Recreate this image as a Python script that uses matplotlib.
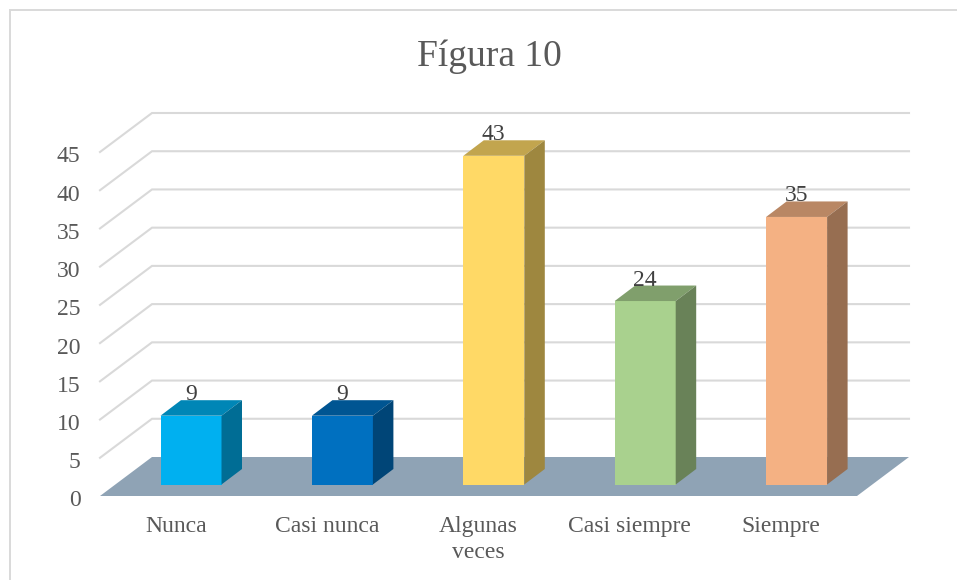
import matplotlib.pyplot as plt
import matplotlib.colors as mcolors
from matplotlib.patches import Polygon
from matplotlib.transforms import ScaledTranslation
import numpy as np

categorias = ["Nunca", "Casi nunca", "Algunas\nveces", "Casi siempre", "Siempre"]
valores = [9, 9, 43, 24, 35]
colores = ["#00B0F0", "#0070C0", "#FFD966", "#A9D18E", "#F4B183"]
niveles = [0, 5, 10, 15, 20, 25, 30, 35, 40, 45]

W, H = 957, 580
plt.rcParams["font.family"] = ["Liberation Serif", "DejaVu Serif"]


def oscurecer(color, f):
    r, g, b = mcolors.to_rgb(color)
    return (r*f, g*f, b*f)


fig = plt.figure(figsize=(W/100, H/100), dpi=100)
# front plane of the fake 3D box, in pixels
left, right, bottom, top = 100, 857, 496, 152
ax = fig.add_axes([left/W, 1-bottom/H, (right-left)/W, (bottom-top)/H])
ax.set_xlim(-0.5, 4.5)
ax.set_ylim(0, 45)
ax.patch.set_visible(False)
for s in ax.spines.values():
    s.set_visible(False)

# pixel sizes in data units
px = 5/(right-left)
py = 45/(bottom-top)

# depth of the floor and of the bars
dx, dy = 52*px, 39*py
bdx, bdy = 20.5*px, 15.5*py
# bars sit part way into the floor
sx, sy = 15.3*px, 11.5*py
ancho = 61*px

# chart frame, right and bottom edges are cut off in the original
fig.add_artist(plt.Rectangle((10/W, 1-590/H), 960/W, 580/H, fill=False,
                             edgecolor="#D9D9D9", linewidth=1.4))

# floor
ax.add_patch(Polygon([(-0.5, 0), (4.5, 0), (4.5+dx, dy), (-0.5+dx, dy)],
                     closed=True, facecolor="#8FA3B5", edgecolor="none",
                     clip_on=False, zorder=1))

# gridlines
for v in niveles[1:]:
    ax.plot([-0.5, -0.5+dx, 4.5+dx], [v, v+dy, v+dy], color="#D9D9D9",
            lw=1.5, clip_on=False, zorder=1, solid_joinstyle="miter")

# bars
xs = np.arange(len(valores))
for x, v, c in zip(xs, valores, colores):
    x0 = x+sx-ancho/2
    x1 = x+sx+ancho/2
    tope = sy+v
    ax.bar(x+sx, v, width=ancho, bottom=sy, color=c, zorder=3, clip_on=False)
    ax.add_patch(Polygon([(x0, tope), (x1, tope), (x1+bdx, tope+bdy), (x0+bdx, tope+bdy)],
                         closed=True, facecolor=oscurecer(c, 0.76), edgecolor="none",
                         clip_on=False, zorder=3))
    ax.add_patch(Polygon([(x1, sy), (x1+bdx, sy+bdy), (x1+bdx, tope+bdy), (x1, tope)],
                         closed=True, facecolor=oscurecer(c, 0.62), edgecolor="none",
                         clip_on=False, zorder=3))
    ax.text(x+sx, tope+bdy, str(v), ha="center", va="baseline", fontsize=17,
            color="#404040", zorder=4)

ax.set_xticks(xs)
ax.set_xticklabels(categorias, fontsize=17, color="#595959", linespacing=1.33)
ax.set_yticks(niveles)
ax.set_yticklabels(niveles, fontsize=17, color="#595959")
ax.tick_params(length=0)
ax.tick_params(axis="x", pad=14.5)
ax.tick_params(axis="y", pad=14)
# y labels sit a little under their level
bajar = ScaledTranslation(0, -2.5/100, fig.dpi_scale_trans)
for t in ax.get_yticklabels():
    t.set_transform(t.get_transform()+bajar)

fig.text(489.5/W, 1-66/H, "Fígura 10", ha="center", va="baseline", fontsize=27, color="#595959")

fig.savefig("out.png", dpi=100)
